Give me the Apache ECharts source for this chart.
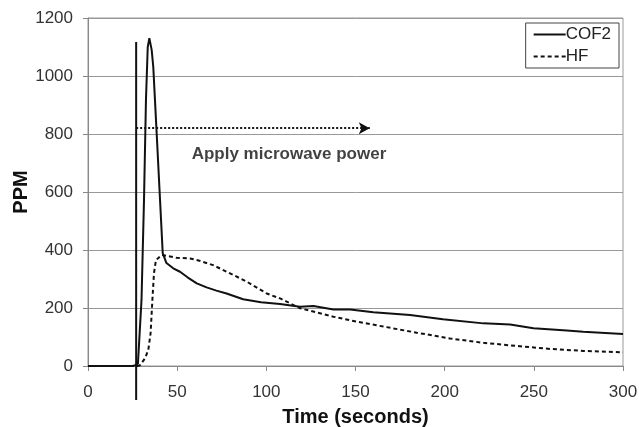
<!DOCTYPE html>
<html>
<head>
<meta charset="utf-8">
<script src="https://cdn.jsdelivr.net/npm/echarts@6/dist/echarts.min.js"></script>
<style>html,body{margin:0;padding:0;background:#fff}#c{width:639px;height:427px}</style>
</head>
<body>
<div id="c"></div>
<script>
const cof2Time = [0, 25, 26.5, 28, 30, 31.4, 32.5, 33.5, 34.4, 35.7, 36.6, 38.5, 40.4, 41.9, 44, 47.8, 51.6, 56, 61, 66.5, 72, 77.7, 87, 97, 107.7, 118.9, 126.4, 137.6, 147, 160, 180.6, 199, 221.7, 236.7, 249.8, 268.5, 277.7, 300];
const cof2Ppm  = [0, 0, 3, 8, 227, 572, 917, 1100, 1130, 1090, 1032, 803, 572, 389, 355, 337, 325, 305, 285, 271, 260, 250, 230, 220, 214, 204, 207, 195, 195, 185, 176, 161, 147, 143, 130, 122, 118, 110];
const hfTime = [0, 28, 29.2, 32, 33.8, 35.1, 36.1, 37, 38.1, 41.3, 49.7, 57.2, 63, 70.1, 77.8, 89, 100.2, 107.7, 111.4, 119, 137.6, 150.6, 165.6, 184.3, 203, 221.7, 240.4, 259, 277.8, 300];
const hfPpm  = [0, 0, 3, 27, 55, 113, 227, 320, 365, 383, 373, 371, 362, 348, 325, 291, 250, 233, 222, 199, 170, 153, 136, 115, 95, 80, 69, 59, 52, 47];
const startTime = 27;
const startLine = [1117, -117];
const arrowTime = [27, 158];
const arrowPpm = 820;
const noteText = 'Apply microwave power';
const notePos = [112.7, 731];
const xTicks = {min: 0, max: 300, interval: 50};
const yTicks = {min: 0, max: 1200, interval: 200};

const zip = (a, b) => a.map((t, i) => [t, b[i]]);
const chart = echarts.init(document.getElementById('c'), null, {renderer: 'canvas'});
const FONT = 'Liberation Sans, Arial, sans-serif';
chart.setOption({
  animation: false,
  backgroundColor: '#fff',
  grid: {left: 88, right: 16, top: 18, bottom: 61, containLabel: false, outerBoundsMode: 'none',
         show: true, borderColor: '#999', borderWidth: 1},
  legend: {
    data: ['COF2', 'HF'], orient: 'vertical', right: 20, top: 23,
    borderColor: '#444', borderWidth: 1, padding: [3, 8, 3, 7], itemGap: 5,
    itemWidth: 32, itemHeight: 10,
    itemStyle: {opacity: 0},
    textStyle: {fontFamily: FONT, fontSize: 17, color: '#222', padding: [0, 0, 0, -5]}
  },
  xAxis: {
    type: 'value', min: xTicks.min, max: xTicks.max, interval: xTicks.interval,
    name: 'Time (seconds)', nameLocation: 'middle', nameGap: 41, nameMoveOverlap: false,
    nameTextStyle: {fontFamily: FONT, fontSize: 20, fontWeight: 'bold', color: '#111'},
    axisLine: {lineStyle: {color: '#888'}},
    axisTick: {show: true, length: 5, lineStyle: {color: '#888'}},
    axisLabel: {fontFamily: FONT, fontSize: 17, color: '#333', margin: 18, hideOverlap: false},
    splitLine: {show: false}
  },
  yAxis: {
    type: 'value', min: yTicks.min, max: yTicks.max, interval: yTicks.interval,
    name: 'PPM', nameLocation: 'middle', nameGap: 57, nameRotate: 90, nameMoveOverlap: false,
    nameTextStyle: {fontFamily: FONT, fontSize: 20, fontWeight: 'bold', color: '#111'},
    axisLine: {show: true, lineStyle: {color: '#888'}},
    axisTick: {show: true, length: 5, lineStyle: {color: '#888'}},
    axisLabel: {fontFamily: FONT, fontSize: 17, color: '#333', margin: 15, formatter: v => String(v)},
    splitLine: {show: true, lineStyle: {color: '#999', width: 1}}
  },
  series: [
    {
      name: 'COF2', type: 'line', data: zip(cof2Time, cof2Ppm), symbol: 'none',
      lineStyle: {color: '#111', width: 2}, itemStyle: {color: '#111'}, z: 4
    },
    {
      name: 'HF', type: 'line', data: zip(hfTime, hfPpm), symbol: 'none',
      lineStyle: {color: '#111', width: 2, type: [4, 3]}, itemStyle: {color: '#111'}, z: 3
    },
    {
      name: 'start', type: 'line', data: [[startTime, startLine[0]], [startTime, startLine[1]]],
      symbol: 'none', clip: false, lineStyle: {color: '#111', width: 2}, z: 5, silent: true
    },
    {
      name: 'arrow', type: 'line', data: [], symbol: 'none', silent: true,
      markLine: {
        silent: true, symbol: ['none', 'arrow'], symbolSize: [9, 11],
        lineStyle: {color: '#111', width: 2, type: [2, 2]},
        label: {show: false},
        data: [[{coord: [arrowTime[0], arrowPpm]}, {coord: [arrowTime[1], arrowPpm]}]]
      }
    },
    {
      name: 'note', type: 'scatter', data: [notePos], symbolSize: 1, silent: true,
      itemStyle: {color: 'rgba(0,0,0,0)'},
      label: {show: true, position: 'inside', formatter: noteText, fontFamily: FONT, fontSize: 17, fontWeight: 'bold', color: '#111'}
    }
  ]
});
</script>
</body>
</html>
